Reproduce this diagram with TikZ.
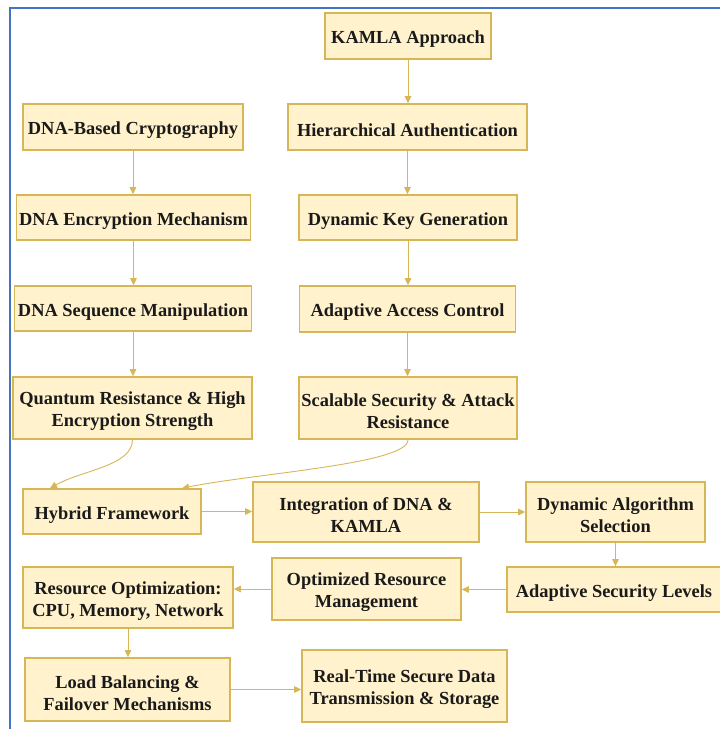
\documentclass[tikz,border=0pt]{standalone}
\usepackage{fontspec}
\setmainfont{Liberation Serif}
\usetikzlibrary{arrows.meta}
\definecolor{boxfill}{HTML}{FFF2CC}
\definecolor{boxline}{HTML}{D6B656}
\definecolor{arrowcol}{HTML}{D6B656}
\definecolor{framecol}{HTML}{4472C4}
\definecolor{txt}{HTML}{1A1A1A}
\newcommand{\topstrut}{\rule{0pt}{19.5pt}}
\tikzset{
  box/.style={draw=boxline, fill=boxfill, line width=1.6pt, inner sep=0pt,
    align=center, text=txt, font=\fontsize{18.4}{22}\selectfont\bfseries},
  conn/.style={draw=arrowcol, line width=0.9pt, -{Triangle[length=7pt,width=6.5pt]}},
}
\begin{document}
\begin{tikzpicture}[x=1pt,y=-1pt]
\useasboundingbox (0,0) rectangle (720,729);
\draw[framecol, line width=2pt] (10,729) -- (10,8) -- (720,8);

\node[box, minimum width=166pt, minimum height=46pt] (kamla) at (408,36) {\topstrut KAMLA Approach};
\node[box, minimum width=220pt, minimum height=46pt] (dnab) at (133,127) {\topstrut DNA-Based Cryptography};
\node[box, minimum width=239pt, minimum height=46pt] (hier) at (407.5,127) {\topstrut Hierarchical Authentication};
\node[box, minimum width=234pt, minimum height=45pt] (dnae) at (133.5,217.5) {\topstrut DNA Encryption Mechanism};
\node[box, minimum width=218pt, minimum height=45pt] (dkey) at (408,217.5) {\topstrut Dynamic Key Generation};
\node[box, minimum width=237pt, minimum height=45pt] (dnas) at (133,308.5) {\topstrut DNA Sequence Manipulation};
\node[box, minimum width=216pt, minimum height=46pt] (aac) at (407.5,309) {\topstrut Adaptive Access Control};
\node[box, minimum width=239pt, minimum height=62pt] (quan) at (132.5,408) {\topstrut Quantum Resistance \& High\\Encryption Strength};
\node[box, minimum width=218pt, minimum height=62pt] (scal) at (408,408) {\topstrut Scalable Security \& Attack\\Resistance};
\node[box, minimum width=178pt, minimum height=45pt] (hyb) at (112,511.5) {\topstrut Hybrid Framework};
\node[box, minimum width=226pt, minimum height=60pt] (integ) at (366,512) {\topstrut Integration of DNA \&\\KAMLA};
\node[box, minimum width=179pt, minimum height=60pt] (dalg) at (615.5,512) {\topstrut Dynamic Algorithm\\Selection};
\node[box, minimum width=214pt, minimum height=45pt] (asl) at (614,589.5) {\topstrut Adaptive Security Levels};
\node[box, minimum width=189pt, minimum height=62pt] (opt) at (366.5,589) {\topstrut Optimized Resource\\Management};
\node[box, minimum width=210pt, minimum height=61pt] (ropt) at (128,597.5) {\topstrut Resource Optimization:\\CPU, Memory, Network};
\node[box, minimum width=205pt, minimum height=63pt] (load) at (127.5,689.5) {\topstrut Load Balancing \&\\Failover Mechanisms};
\node[box, minimum width=205pt, minimum height=72pt] (rt) at (404.5,686) {\topstrut Real-Time Secure Data\\Transmission \& Storage};

\draw[conn] (kamla.south) -- (kamla.south |- hier.north);
\draw[conn] (hier.south) -- (hier.south |- dkey.north);
\draw[conn] (dkey.south) -- (dkey.south |- aac.north);
\draw[conn] (aac.south) -- (aac.south |- scal.north);
\draw[conn] (dnab.south) -- (dnab.south |- dnae.north);
\draw[conn] (dnae.south) -- (dnae.south |- dnas.north);
\draw[conn] (dnas.south) -- (dnas.south |- quan.north);

\coordinate (hybA) at ([xshift=-62pt]hyb.north);
\coordinate (hybB) at ([xshift=70pt]hyb.north);
\draw[conn] (quan.south) .. controls ([yshift=-26pt]quan.south) and ([xshift=32pt,yshift=18pt]hybA) .. (hybA);
\draw[conn] (scal.south) .. controls ([yshift=-24pt]scal.south) and ([xshift=75pt,yshift=15pt]hybB) .. (hybB);

\draw[conn] (hyb.east) -- (hyb.east -| integ.west);
\draw[conn] (integ.east) -- (integ.east -| dalg.west);
\draw[conn] (dalg.south) -- (dalg.south |- asl.north);
\draw[conn] (asl.west) -- (asl.west -| opt.east);
\draw[conn] (opt.west) -- (opt.west -| ropt.east);
\draw[conn] (ropt.south) -- (ropt.south |- load.north);
\draw[conn] (load.east) -- (load.east -| rt.west);
\end{tikzpicture}
\end{document}
